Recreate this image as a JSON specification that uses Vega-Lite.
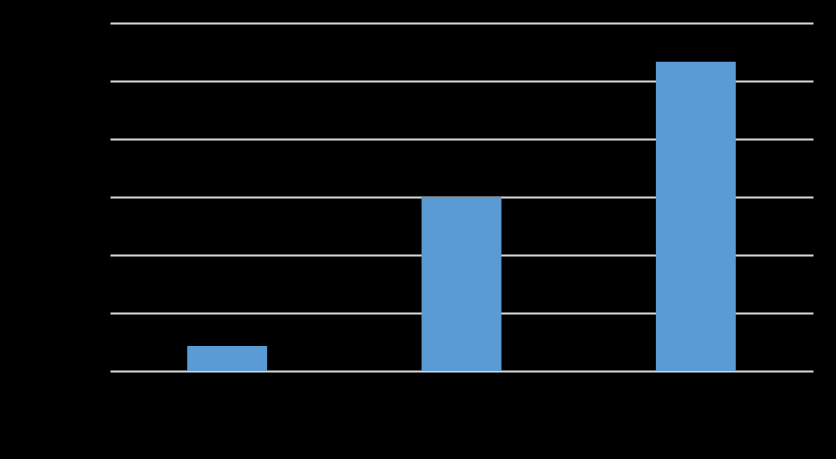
{
  "$schema": "https://vega.github.io/schema/vega-lite/v6.json",
  "width": 703,
  "height": 348,
  "autosize": {"type": "none"},
  "padding": {"left": 110, "top": 23, "right": 23, "bottom": 88},
  "background": "#000000",
  "config": {"view": {"stroke": null}},
  "data": {"values": [
    {"category": "Category 1", "value": 4.3},
    {"category": "Category 2", "value": 30},
    {"category": "Category 3", "value": 53.3}
  ]},
  "mark": {"type": "bar", "color": "#5b9bd5"},
  "encoding": {
    "x": {
      "field": "category", "type": "nominal", "sort": null,
      "scale": {"paddingInner": 0.659, "paddingOuter": 0.3295},
      "axis": {"title": null, "labelAngle": 0, "domain": false, "ticks": false, "labelColor": "#000000", "labelFontSize": 12, "labelPadding": 10}
    },
    "y": {
      "field": "value", "type": "quantitative",
      "scale": {"domain": [0, 60], "nice": false},
      "axis": {"title": null, "values": [0, 10, 20, 30, 40, 50, 60], "domain": false, "ticks": false, "grid": true, "gridColor": "#d9d9d9", "gridWidth": 2, "gridOpacity": 1, "labelColor": "#000000", "labelFontSize": 12, "labelPadding": 10}
    }
  }
}
